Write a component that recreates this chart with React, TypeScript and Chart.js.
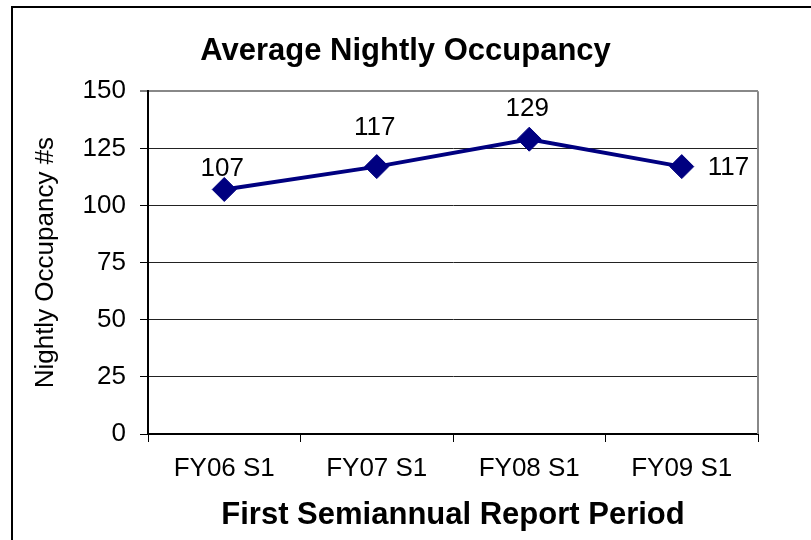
import React, { useEffect, useRef } from "react";
import { Chart, registerables } from "chart.js";

Chart.register(...registerables);

const chartTitle = "Average Nightly Occupancy";
const xAxisTitle = "First Semiannual Report Period";
const yAxisTitle = "Nightly Occupancy #s";
const categories = ["FY06 S1", "FY07 S1", "FY08 S1", "FY09 S1"];
const occupancy = [107, 117, 129, 117];
const yMin = 0;
const yMax = 150;
const yStep = 25;

// label placement (style): side and offset from the point
const labelPlacement = [
  { side: "top", offset: 23 },
  { side: "top", offset: 41 },
  { side: "top", offset: 32 },
  { side: "right", offset: 26 },
];

const FONT = "'Liberation Sans', Arial, Helvetica, sans-serif";
const NAVY = "#000080";

const framePlugin = {
  id: "frame",
  beforeDraw(chart: any) {
    const { ctx, width, height } = chart;
    ctx.save();
    ctx.fillStyle = "#ffffff";
    ctx.fillRect(0, 0, width, height);
    ctx.strokeStyle = "#000000";
    ctx.lineWidth = 2;
    ctx.beginPath();
    ctx.moveTo(12, height);
    ctx.lineTo(12, 7);
    ctx.lineTo(width, 7);
    ctx.stroke();
    ctx.restore();
  },
  beforeDatasetsDraw(chart: any) {
    const { ctx, chartArea } = chart;
    ctx.save();
    ctx.strokeStyle = "#888888";
    ctx.lineWidth = 2;
    ctx.beginPath();
    ctx.moveTo(chartArea.right, chartArea.top);
    ctx.lineTo(chartArea.right, chartArea.bottom);
    ctx.stroke();
    ctx.restore();
  },
};

const valueLabelPlugin = {
  id: "valueLabels",
  afterDatasetsDraw(chart: any) {
    const { ctx } = chart;
    const meta = chart.getDatasetMeta(0);
    ctx.save();
    ctx.font = `26px ${FONT}`;
    ctx.fillStyle = "#000000";
    ctx.textBaseline = "middle";
    meta.data.forEach((pt: any, i: number) => {
      const place = labelPlacement[i];
      const text = String(occupancy[i]);
      if (place.side === "right") {
        ctx.textAlign = "left";
        ctx.fillText(text, pt.x + place.offset, pt.y + 1);
      } else {
        ctx.textAlign = "center";
        ctx.fillText(text, pt.x - 2, pt.y - place.offset + 2);
      }
    });
    ctx.restore();
  },
};

export default function App() {
  const canvasRef = useRef<HTMLCanvasElement | null>(null);

  useEffect(() => {
    if (!canvasRef.current) return;
    Chart.defaults.font.family = FONT;
    const chart = new Chart(canvasRef.current, {
      type: "line",
      data: {
        labels: categories,
        datasets: [
          {
            data: occupancy,
            borderColor: NAVY,
            backgroundColor: NAVY,
            borderWidth: 4,
            pointStyle: "rectRot",
            pointRadius: 12,
            pointBorderWidth: 1,
            pointBackgroundColor: NAVY,
            pointBorderColor: NAVY,
            tension: 0,
            clip: false as any,
          },
        ],
      },
      options: {
        responsive: false,
        animation: false,
        layout: { padding: { left: 0, right: 0, top: 0, bottom: 0 } },
        plugins: {
          legend: { display: false },
          tooltip: { enabled: false },
          title: {
            display: true,
            text: chartTitle,
            color: "#000000",
            font: { family: FONT, size: 31, weight: "bold" },
            padding: { top: 33, bottom: 21 },
          },
        },
        scales: {
          x: {
            type: "category",
            offset: true,
            grid: {
              display: true,
              offset: true,
              drawOnChartArea: false,
              drawTicks: true,
              tickLength: 8,
              tickColor: "#000000",
              tickWidth: 1,
            },
            border: { display: true, color: "#000000", width: 2 },
            ticks: {
              color: "#000000",
              font: { family: FONT, size: 26 },
              padding: 11,
              maxRotation: 0,
            },
            title: {
              display: true,
              text: xAxisTitle,
              color: "#000000",
              font: { family: FONT, size: 31, weight: "bold" },
              padding: { top: 0, bottom: 6 },
            },
            afterFit(scale: any) {
              scale.height = 106;
            },
          },
          y: {
            min: yMin,
            max: yMax,
            grid: {
              color: (ctx: any) => (ctx.tick && ctx.tick.value === yMax ? "#888888" : "#222222"),
              lineWidth: (ctx: any) => (ctx.tick && ctx.tick.value === yMax ? 2 : 1),
              tickColor: "#000000",
              tickLength: 8,
              tickWidth: 1,
            },
            border: { display: true, color: "#000000", width: 2 },
            ticks: {
              stepSize: yStep,
              color: "#000000",
              font: { family: FONT, size: 26 },
              padding: 14,
            },
            title: {
              display: true,
              text: yAxisTitle,
              color: "#000000",
              font: { family: FONT, size: 26 },
              padding: { top: 30, bottom: 0 },
            },
            afterFit(scale: any) {
              scale.width = 148;
            },
          },
          spacer: {
            type: "linear",
            position: "right",
            display: true,
            grid: { display: false, drawTicks: false },
            border: { display: false },
            ticks: { display: false },
            title: { display: false },
            afterFit(scale: any) {
              scale.width = 53;
            },
          },
        },
      } as any,
      plugins: [framePlugin, valueLabelPlugin],
    });
    return () => chart.destroy();
  }, []);

  return (
    <div style={{ position: "fixed", left: 0, top: 0, width: 811, height: 540, background: "#fff" }}>
      <canvas ref={canvasRef} width={811} height={540} style={{ display: "block" }} />
    </div>
  );
}
